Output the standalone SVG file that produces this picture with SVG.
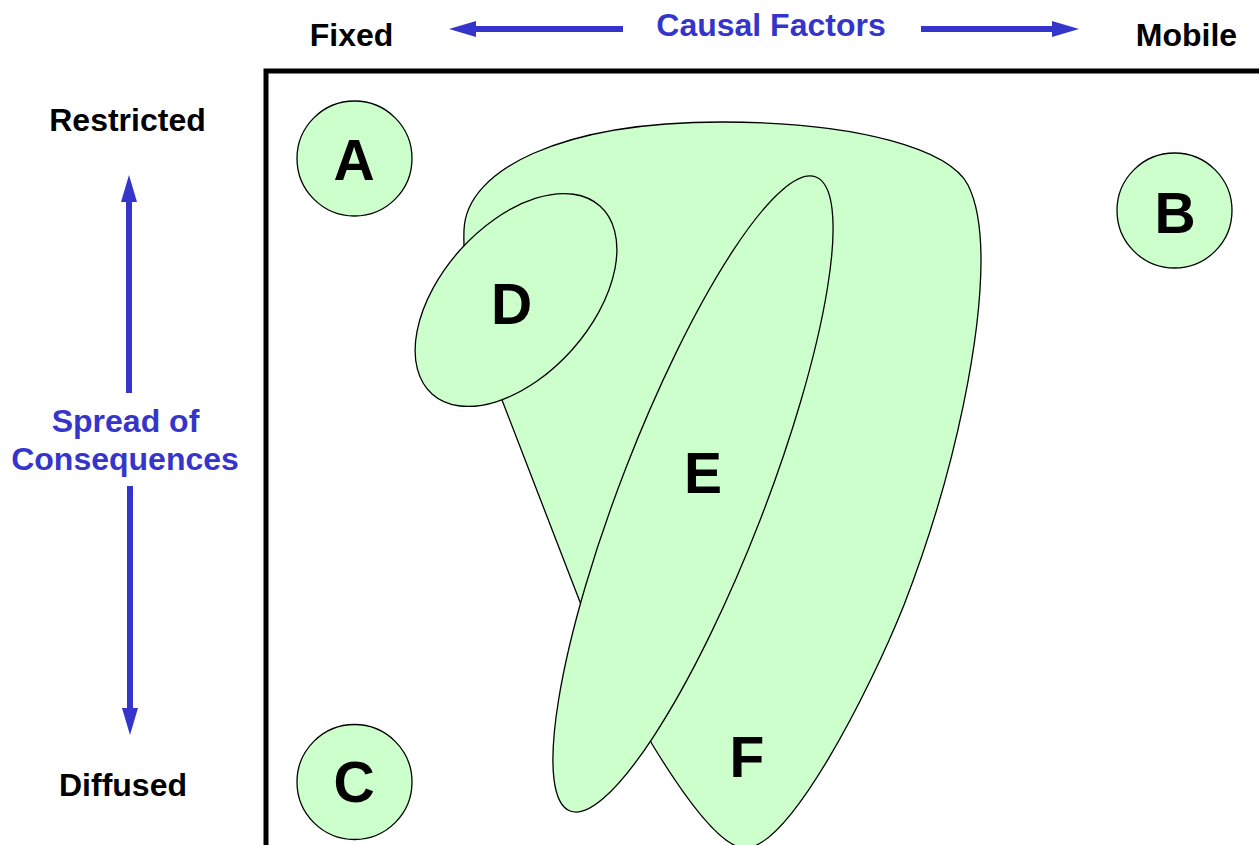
<svg xmlns="http://www.w3.org/2000/svg" width="1259" height="845" viewBox="0 0 1259 845">
  <style>
    .lbl { font-family: "Liberation Sans", Arial, sans-serif; font-weight: bold; font-size: 32px; }
    .axis { fill: #000000; }
    .blue { fill: #3535cc; }
    .region { fill: #ccffcc; stroke: #000000; stroke-width: 1.3; }
    .letter { font-family: "Liberation Sans", Arial, sans-serif; font-weight: bold; font-size: 57px; fill: #000000; text-anchor: middle; }
    .arrow { stroke: #3535cc; stroke-width: 6; fill: none; marker-end: url(#head); }
  </style>
  <defs>
    <marker id="head" viewBox="0 -8 27 16" refX="2" refY="0" markerWidth="27" markerHeight="16" markerUnits="userSpaceOnUse" orient="auto">
      <path d="M0,-8 L27,0 L0,8 Z" fill="#3535cc"/>
    </marker>
  </defs>

  <rect width="1259" height="845" fill="#ffffff"/>

  <!-- axis frame -->
  <path d="M266,845 V71 H1259" fill="none" stroke="#000000" stroke-width="5" stroke-linejoin="miter"/>

  <!-- axis titles -->
  <g id="axis-labels">
    <text class="lbl axis" x="351.5" y="46" text-anchor="middle">Fixed</text>
    <text class="lbl blue" x="771" y="36" text-anchor="middle" font-size="32.5">Causal Factors</text>
    <text class="lbl axis" x="1186.5" y="46" text-anchor="middle">Mobile</text>
    <text class="lbl axis" x="127.5" y="131" text-anchor="middle" font-size="32.5">Restricted</text>
    <text class="lbl blue" x="125.5" y="432" text-anchor="middle" font-size="32.5">Spread of</text>
    <text class="lbl blue" x="125" y="470" text-anchor="middle" font-size="32.5">Consequences</text>
    <text class="lbl axis" x="123" y="796" text-anchor="middle" font-size="32.5">Diffused</text>
  </g>

  <!-- axis arrows -->
  <g id="connectors">
    <line class="arrow" x1="623" y1="29" x2="474" y2="29"/>
    <line class="arrow" x1="921" y1="29" x2="1054" y2="29"/>
    <line class="arrow" x1="129" y1="393" x2="129" y2="200"/>
    <line class="arrow" x1="130" y1="486" x2="130" y2="710"/>
  </g>

  <!-- corner regions -->
  <g id="node-A">
    <circle class="region" cx="354.5" cy="158.5" r="57.5"/>
    <text class="letter" x="354" y="180">A</text>
  </g>
  <g id="node-B">
    <circle class="region" cx="1174.5" cy="210.5" r="57.5"/>
    <text class="letter" x="1175" y="233">B</text>
  </g>
  <g id="node-C">
    <circle class="region" cx="354.5" cy="782" r="57.5"/>
    <text class="letter" x="354" y="802">C</text>
  </g>

  <!-- large region F -->
  <g id="node-F">
    <path class="region" d="M722,122 C860,122 950,150 968,185 C978,205 981,235 981,260 C981,330 960,460 904,605 C870,690 790,848 745,848 C720,848 680,790 652,744 L580,602 L502,400 C482,350 462,285 464,230 C466,170 560,122 722,122 Z"/>
    <text class="letter" x="747" y="777">F</text>
  </g>

  <!-- region D -->
  <g id="node-D">
    <ellipse class="region" cx="516" cy="300" rx="126" ry="75" transform="rotate(-48.2 516 300)"/>
    <text class="letter" x="511.5" y="324">D</text>
  </g>

  <!-- region E -->
  <g id="node-E">
    <ellipse class="region" cx="693" cy="494" rx="340" ry="72" transform="rotate(-68.8 693 494)"/>
    <text class="letter" x="703" y="493">E</text>
  </g>
</svg>
